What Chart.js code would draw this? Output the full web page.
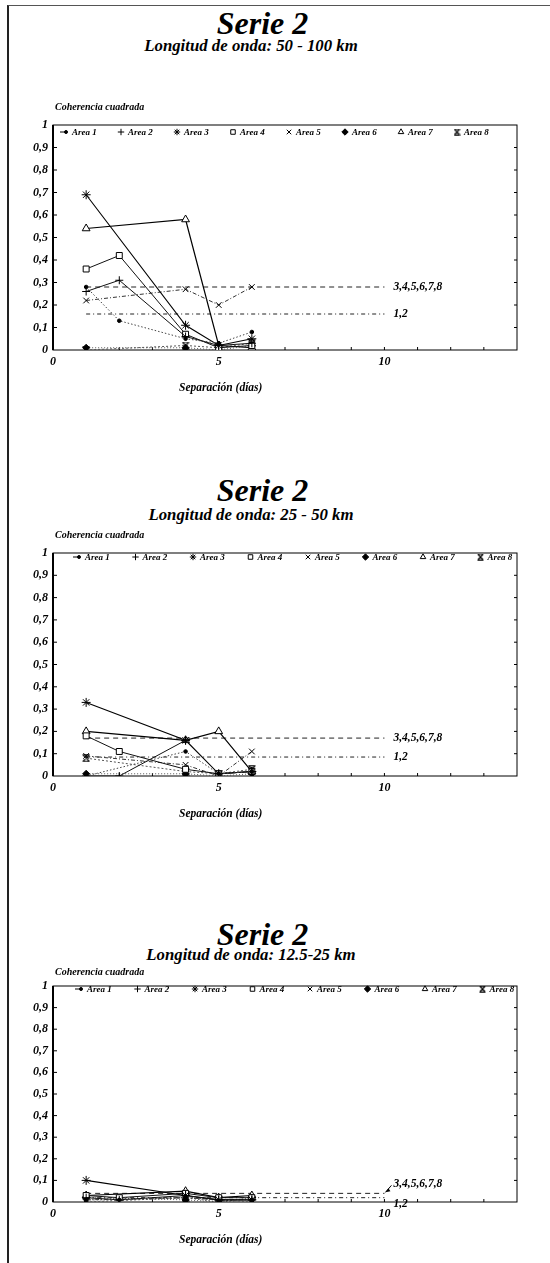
<!DOCTYPE html>
<html>
<head>
<meta charset="utf-8">
<script src="https://cdn.jsdelivr.net/npm/chart.js@4.4.1/dist/chart.umd.min.js"></script>
<style>
  body { margin: 0; background: #fff; }
  #page { position: relative; width: 550px; height: 1263px; overflow: hidden;
          font-family: "Liberation Serif", "DejaVu Serif", serif; font-style: italic; font-weight: bold; color: #000; }
  .frame { position: absolute; left: 7px; top: 5px; width: 600px; height: 1300px;
           border-left: 2px solid #222; border-top: 1px solid #555; }
  .serie { position: absolute; left: 0; width: 525px; text-align: center; font-size: 32px; line-height: 32px; }
  .sub { position: absolute; left: 0; width: 502px; text-align: center; font-size: 16.8px; line-height: 16px; }
  canvas { position: absolute; left: 0; }
</style>
</head>
<body>
<div id="page">
  <div class="frame"></div>
  <div class="serie" style="top:7px">Serie 2</div>
  <div class="sub" style="top:38px" id="sub0"></div>
  <canvas id="c0" width="550" height="305" style="top:95px"></canvas>

  <div class="serie" style="top:474px">Serie 2</div>
  <div class="sub" style="top:507px" id="sub1"></div>
  <canvas id="c1" width="550" height="303" style="top:523px"></canvas>

  <div class="serie" style="top:918px">Serie 2</div>
  <div class="sub" style="top:947px" id="sub2"></div>
  <canvas id="c2" width="550" height="296" style="top:956px"></canvas>
</div>
<script>
// separation in days where coherence was computed
const xDays = [1, 2, 4, 5, 6];
const areaNames = ['Area 1', 'Area 2', 'Area 3', 'Area 4', 'Area 5', 'Area 6', 'Area 7', 'Area 8'];
const xTickLabels = [0, 5, 10];
const subtitles = ['Longitud de onda: 50 - 100 km', 'Longitud de onda: 25 - 50 km', 'Longitud de onda: 12.5-25 km'];

// squared coherence, one row per area, one column per xDays (null = no value)
const band50to100 = [
  [0.28, 0.13, 0.05, 0.03, 0.08],
  [0.26, 0.31, 0.06, 0.02, 0.03],
  [0.69, null, 0.11, 0.02, 0.05],
  [0.36, 0.42, 0.07, 0.01, 0.02],
  [0.22, null, 0.27, 0.20, 0.28],
  [0.01, null, 0.01, 0.00, 0.02],
  [0.54, null, 0.58, 0.02, 0.01],
  [0.00, null, 0.02, 0.01, 0.03]
];
const band25to50 = [
  [0.00, null, 0.11, 0.01, 0.02],
  [0.00, 0.00, 0.16, 0.01, 0.02],
  [0.33, null, 0.16, 0.01, 0.02],
  [0.18, 0.11, 0.03, 0.01, 0.02],
  [0.09, null, 0.05, 0.00, 0.11],
  [0.01, null, 0.01, 0.00, 0.01],
  [0.20, null, 0.16, 0.20, 0.02],
  [0.08, null, 0.02, 0.01, 0.03]
];
const band12to25 = [
  [0.01, 0.01, 0.02, 0.00, 0.01],
  [0.02, 0.01, 0.03, 0.01, 0.01],
  [0.10, null, 0.03, 0.01, 0.01],
  [0.03, 0.02, 0.04, 0.02, 0.02],
  [0.01, null, 0.02, 0.01, 0.01],
  [0.02, null, 0.01, 0.00, 0.02],
  [0.03, null, 0.05, 0.02, 0.03],
  [0.00, null, 0.02, 0.01, 0.00]
];

// group levels: areas 3-8 and areas 1,2
const refGroupA = [0.28, 0.17, 0.04];
const refGroupB = [0.16, 0.085, 0.02];
const refLabels = ['3,4,5,6,7,8', '1,2'];
const refSpan = [1, 10];

// marker for area 8: an x closed by two bars
function hourglassMarker(size) {
  const c = document.createElement('canvas');
  c.width = size; c.height = size;
  const g = c.getContext('2d');
  const e = size - 1;
  g.strokeStyle = '#000'; g.lineWidth = 1.1;
  g.beginPath();
  g.moveTo(1, 1); g.lineTo(e, e);
  g.moveTo(e, 1); g.lineTo(1, e);
  g.moveTo(0.5, 0.8); g.lineTo(e + 0.5, 0.8);
  g.moveTo(0.5, e + 0.2); g.lineTo(e + 0.5, e + 0.2);
  g.stroke();
  return c;
}
const hourglass = hourglassMarker(8);
const hourglassSmall = hourglassMarker(7);

const areaStyles = [
  { point: 'circle',   r: 1.8, fill: '#000', color: '#444', width: 1,   dash: [1.5, 2] },
  { point: 'cross',    r: 4,   fill: '#fff', color: '#111', width: 1,   dash: [] },
  { point: 'star',     r: 4.5, fill: '#fff', color: '#000', width: 1.1, dash: [] },
  { point: 'rect',     r: 4.2, fill: '#fff', color: '#111', width: 1,   dash: [] },
  { point: 'crossRot', r: 4,   fill: '#fff', color: '#333', width: 1,   dash: [4, 2, 1, 2] },
  { point: 'rectRot',  r: 3.5, fill: '#000', color: '#555', width: 1,   dash: [1, 2] },
  { point: 'triangle', r: 4.5, fill: '#fff', color: '#000', width: 1.2, dash: [] },
  { point: hourglass,  r: 4,   fill: '#fff', color: '#555', width: 1,   dash: [2, 2] }
];

const serif = '"Liberation Serif", "DejaVu Serif", serif';
const tickFont = { family: serif, size: 12, style: 'italic', weight: 'bold' };

const decor = {
  id: 'decor',
  beforeDatasetsDraw(chart) {
    const { ctx, chartArea: a, scales } = chart;
    ctx.save();
    ctx.strokeStyle = '#000';
    ctx.lineWidth = 1;
    ctx.strokeRect(a.left, a.top, a.right - a.left, a.bottom - a.top);
    ctx.lineWidth = 2;
    ctx.beginPath(); ctx.moveTo(a.left, a.top); ctx.lineTo(a.left, a.bottom); ctx.stroke();
    ctx.lineWidth = 1;
    ctx.beginPath();
    for (let v = 1; v < 10; v++) {
      const y = scales.y.getPixelForValue(v / 10);
      ctx.moveTo(a.left, y); ctx.lineTo(a.left + 4, y);
      ctx.moveTo(a.right, y); ctx.lineTo(a.right - 3, y);
    }
    for (let v = 1; v < 14; v++) {
      const x = scales.x.getPixelForValue(v);
      ctx.moveTo(x, a.bottom); ctx.lineTo(x, a.bottom - 3);
    }
    ctx.stroke();
    ctx.restore();
  },
  afterDraw(chart, args, opts) {
    const { ctx, chartArea: a, scales } = chart;
    ctx.save();
    ctx.fillStyle = '#000';
    ctx.strokeStyle = '#000';
    ctx.textBaseline = 'middle';

    // legend row inside the frame
    ctx.save();
    ctx.beginPath();
    ctx.rect(a.left, a.top - 10, a.right - a.left, 30);
    ctx.clip();
    ctx.font = 'italic bold 9px ' + serif;
    ctx.textAlign = 'left';
    const ly = a.top + opts.legendDy;
    areaNames.forEach((name, i) => {
      const cx = a.left + opts.legendX + i * opts.legendPitch;
      const st = areaStyles[i];
      ctx.lineWidth = 1;
      ctx.fillStyle = st.fill;
      if (i === 0) {
        ctx.beginPath(); ctx.moveTo(cx - 5, ly); ctx.lineTo(cx + 1, ly); ctx.stroke();
      }
      Chart.helpers.drawPoint(ctx, {
        pointStyle: i === 7 ? hourglassSmall : st.point,
        radius: i === 0 ? 1.5 : 3.2, rotation: 0, borderWidth: 1
      }, i === 0 ? cx + 1 : cx, ly);
      ctx.fillStyle = '#000';
      ctx.fillText(name, cx + 7, ly + 0.5);
    });
    ctx.restore();

    ctx.font = 'italic bold 10px ' + serif;
    ctx.textAlign = 'left';
    ctx.fillText('Coherencia cuadrada', a.left + 2, a.top - opts.cohDy);
    ctx.font = 'italic bold 11.5px ' + serif;
    ctx.textAlign = 'center';
    ctx.fillText('Separación (días)', scales.x.getPixelForValue(5) + 2, a.bottom + 38.5);
    ctx.font = 'italic bold 11.5px ' + serif;
    ctx.textAlign = 'left';
    [8, 9].forEach((di, k) => {
      const pts = chart.getDatasetMeta(di).data;
      const end = pts[pts.length - 1];
      const lx = end.x + 9, ry = end.y + opts.dy[k];
      ctx.fillText(refLabels[k], lx, ry);
      if (opts.arrow && k === 0) {
        ctx.lineWidth = 1;
        ctx.beginPath();
        ctx.moveTo(lx - 2, ry + 1); ctx.lineTo(end.x + 1, end.y - 1);
        ctx.stroke();
        ctx.beginPath();
        ctx.moveTo(end.x + 1, end.y - 1); ctx.lineTo(end.x + 6, end.y - 2); ctx.lineTo(end.x + 4, end.y - 5);
        ctx.fill();
      }
    });
    ctx.restore();
  }
};

function refLine(level, dash) {
  return {
    label: 'ref',
    data: refSpan.map(x => ({ x, y: level })),
    borderColor: '#222', borderWidth: 1, borderDash: dash,
    pointRadius: 0, fill: false
  };
}

function makeChart(id, values, k, decorOpts) {
  document.getElementById('sub' + k).textContent = subtitles[k];
  const datasets = values.map((vals, i) => ({
    label: areaNames[i],
    data: xDays.map((x, j) => ({ x, y: vals[j] })).filter(p => p.y !== null),
    borderColor: areaStyles[i].color,
    borderWidth: areaStyles[i].width,
    borderDash: areaStyles[i].dash,
    backgroundColor: areaStyles[i].fill,
    pointStyle: areaStyles[i].point,
    pointRadius: areaStyles[i].r,
    pointBackgroundColor: areaStyles[i].fill,
    pointBorderColor: '#000',
    pointBorderWidth: 1,
    fill: false,
    tension: 0
  }));
  datasets.push(refLine(refGroupA[k], [5, 4]), refLine(refGroupB[k], [4, 3, 1, 3]));

  new Chart(document.getElementById(id), {
    type: 'line',
    data: { datasets },
    options: {
      responsive: false,
      animation: false,
      layout: { padding: { top: 30, right: 33, left: 0, bottom: 0 } },
      plugins: {
        tooltip: { enabled: false },
        legend: { display: false },
        decor: decorOpts
      },
      scales: {
        x: {
          type: 'linear', min: 0, max: 14,
          grid: { display: false, drawTicks: false },
          border: { display: false },
          ticks: {
            stepSize: 1, autoSkip: false, maxRotation: 0, padding: 5, color: '#000', font: tickFont,
            callback: v => xTickLabels.includes(v) ? String(v) : ''
          },
          afterFit: s => { s.height = 50; }
        },
        y: {
          min: 0, max: 1,
          grid: { display: false, drawTicks: false },
          border: { display: false },
          ticks: {
            stepSize: 0.1, padding: 5, color: '#000', font: tickFont,
            callback: v => {
              const r = Math.round(v * 10) / 10;
              return r === 0 ? '0' : r === 1 ? '1' : String(r).replace('.', ',');
            }
          },
          afterFit: s => { s.width = 53; }
        }
      }
    },
    plugins: [decor]
  });
}

makeChart('c0', band50to100, 0, { dy: [0, 0], cohDy: 18, legendX: 12, legendPitch: 56, legendDy: 7 });
makeChart('c1', band25to50, 1, { dy: [0, 0], cohDy: 18, legendX: 25, legendPitch: 57.5, legendDy: 4 });
makeChart('c2', band12to25, 2, { dy: [-9, 6], cohDy: 14, arrow: true, legendX: 27, legendPitch: 57.5, legendDy: 3 });
</script>
</body>
</html>
